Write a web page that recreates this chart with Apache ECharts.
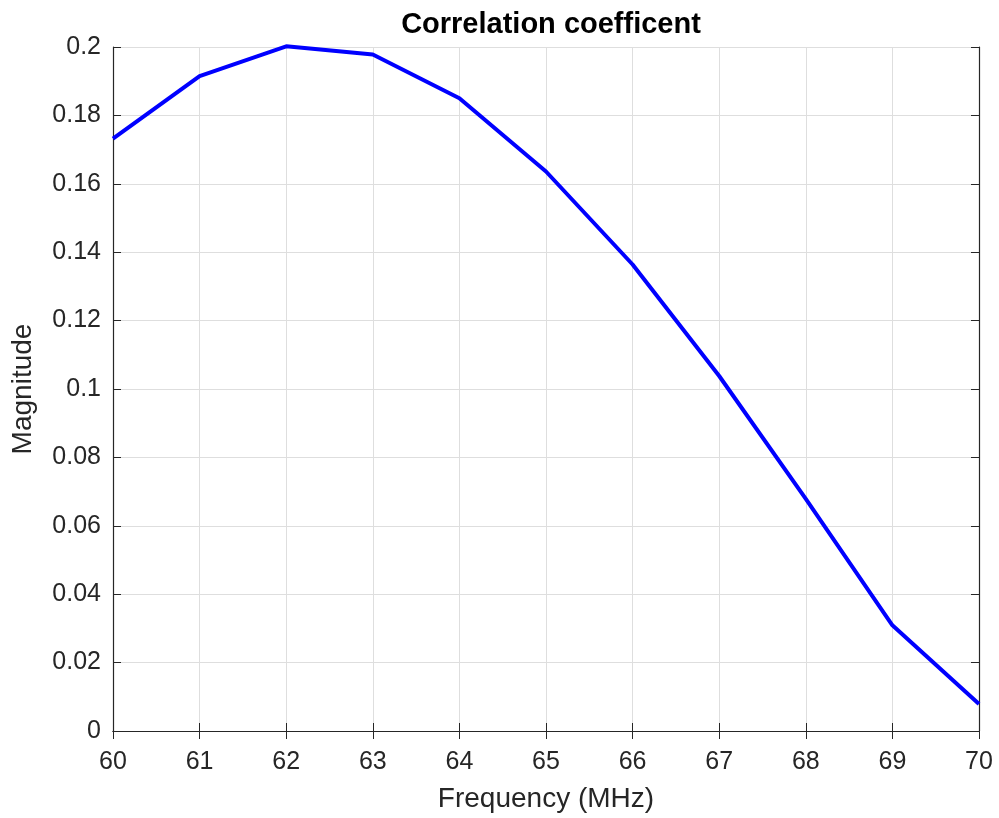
<!DOCTYPE html>
<html>
<head>
<meta charset="utf-8">
<script src="https://cdn.jsdelivr.net/npm/echarts@6/dist/echarts.min.js"></script>
<style>
  html, body { margin: 0; padding: 0; background: #fff; }
  #chart { width: 999px; height: 818px; }
</style>
</head>
<body>
<div id="chart"></div>
<script>
// frequency in MHz and correlation magnitude
const freqs = [60, 61, 62, 63, 64, 65, 66, 67, 68, 69, 70];
const magnitude = [0.1732, 0.1915, 0.2002, 0.1978, 0.185, 0.1636, 0.1364, 0.1038, 0.0679, 0.0309, 0.0079];

const textColor = '#262626';
const font = 'Liberation Sans, Arial, Helvetica, sans-serif';

const chart = echarts.init(document.getElementById('chart'), null, { renderer: 'canvas' });

const tickStyle = { inside: true, length: 8, lineStyle: { color: '#262626', width: 1 } };
const frameLine = { show: true, lineStyle: { color: '#262626', width: 1.2 } };

const option = {
  animation: false,
  backgroundColor: '#fff',
  title: {
    text: 'Correlation coefficent',
    left: 546,
    textAlign: 'center',
    top: 5,
    textStyle: { fontFamily: font, fontSize: 29, fontWeight: 'bold', color: '#000' }
  },
  grid: { left: 113, right: 20, top: 47, bottom: 86 },
  xAxis: [
    {
      type: 'value',
      min: 60,
      max: 70,
      interval: 1,
      name: 'Frequency (MHz)',
      nameLocation: 'middle',
      nameGap: 54,
      nameTextStyle: { fontFamily: font, fontSize: 28, color: textColor },
      axisLine: frameLine,
      axisTick: tickStyle,
      axisLabel: { fontFamily: font, fontSize: 25, color: textColor, margin: 19 },
      splitLine: { show: true, lineStyle: { color: '#dedede', width: 1 } }
    },
    {
      type: 'value',
      position: 'top',
      min: 60,
      max: 70,
      interval: 1,
      axisLine: frameLine,
      axisTick: tickStyle,
      axisLabel: { show: false },
      splitLine: { show: false }
    }
  ],
  yAxis: [
    {
      type: 'value',
      min: 0,
      max: 0.2,
      interval: 0.02,
      name: 'Magnitude',
      nameLocation: 'middle',
      nameGap: 76,
      nameTextStyle: { fontFamily: font, fontSize: 28, color: textColor },
      axisLine: frameLine,
      axisTick: tickStyle,
      axisLabel: { fontFamily: font, fontSize: 25, color: textColor, margin: 12, padding: [5, 0, 0, 0] },
      splitLine: { show: true, lineStyle: { color: '#dedede', width: 1 } }
    },
    {
      type: 'value',
      position: 'right',
      min: 0,
      max: 0.2,
      interval: 0.02,
      axisLine: frameLine,
      axisTick: tickStyle,
      axisLabel: { show: false },
      splitLine: { show: false }
    }
  ],
  series: [
    {
      type: 'line',
      data: freqs.map((f, i) => [f, magnitude[i]]),
      showSymbol: false,
      lineStyle: { color: '#0000ff', width: 4 },
      clip: false
    }
  ]
};

chart.setOption(option);
</script>
</body>
</html>
